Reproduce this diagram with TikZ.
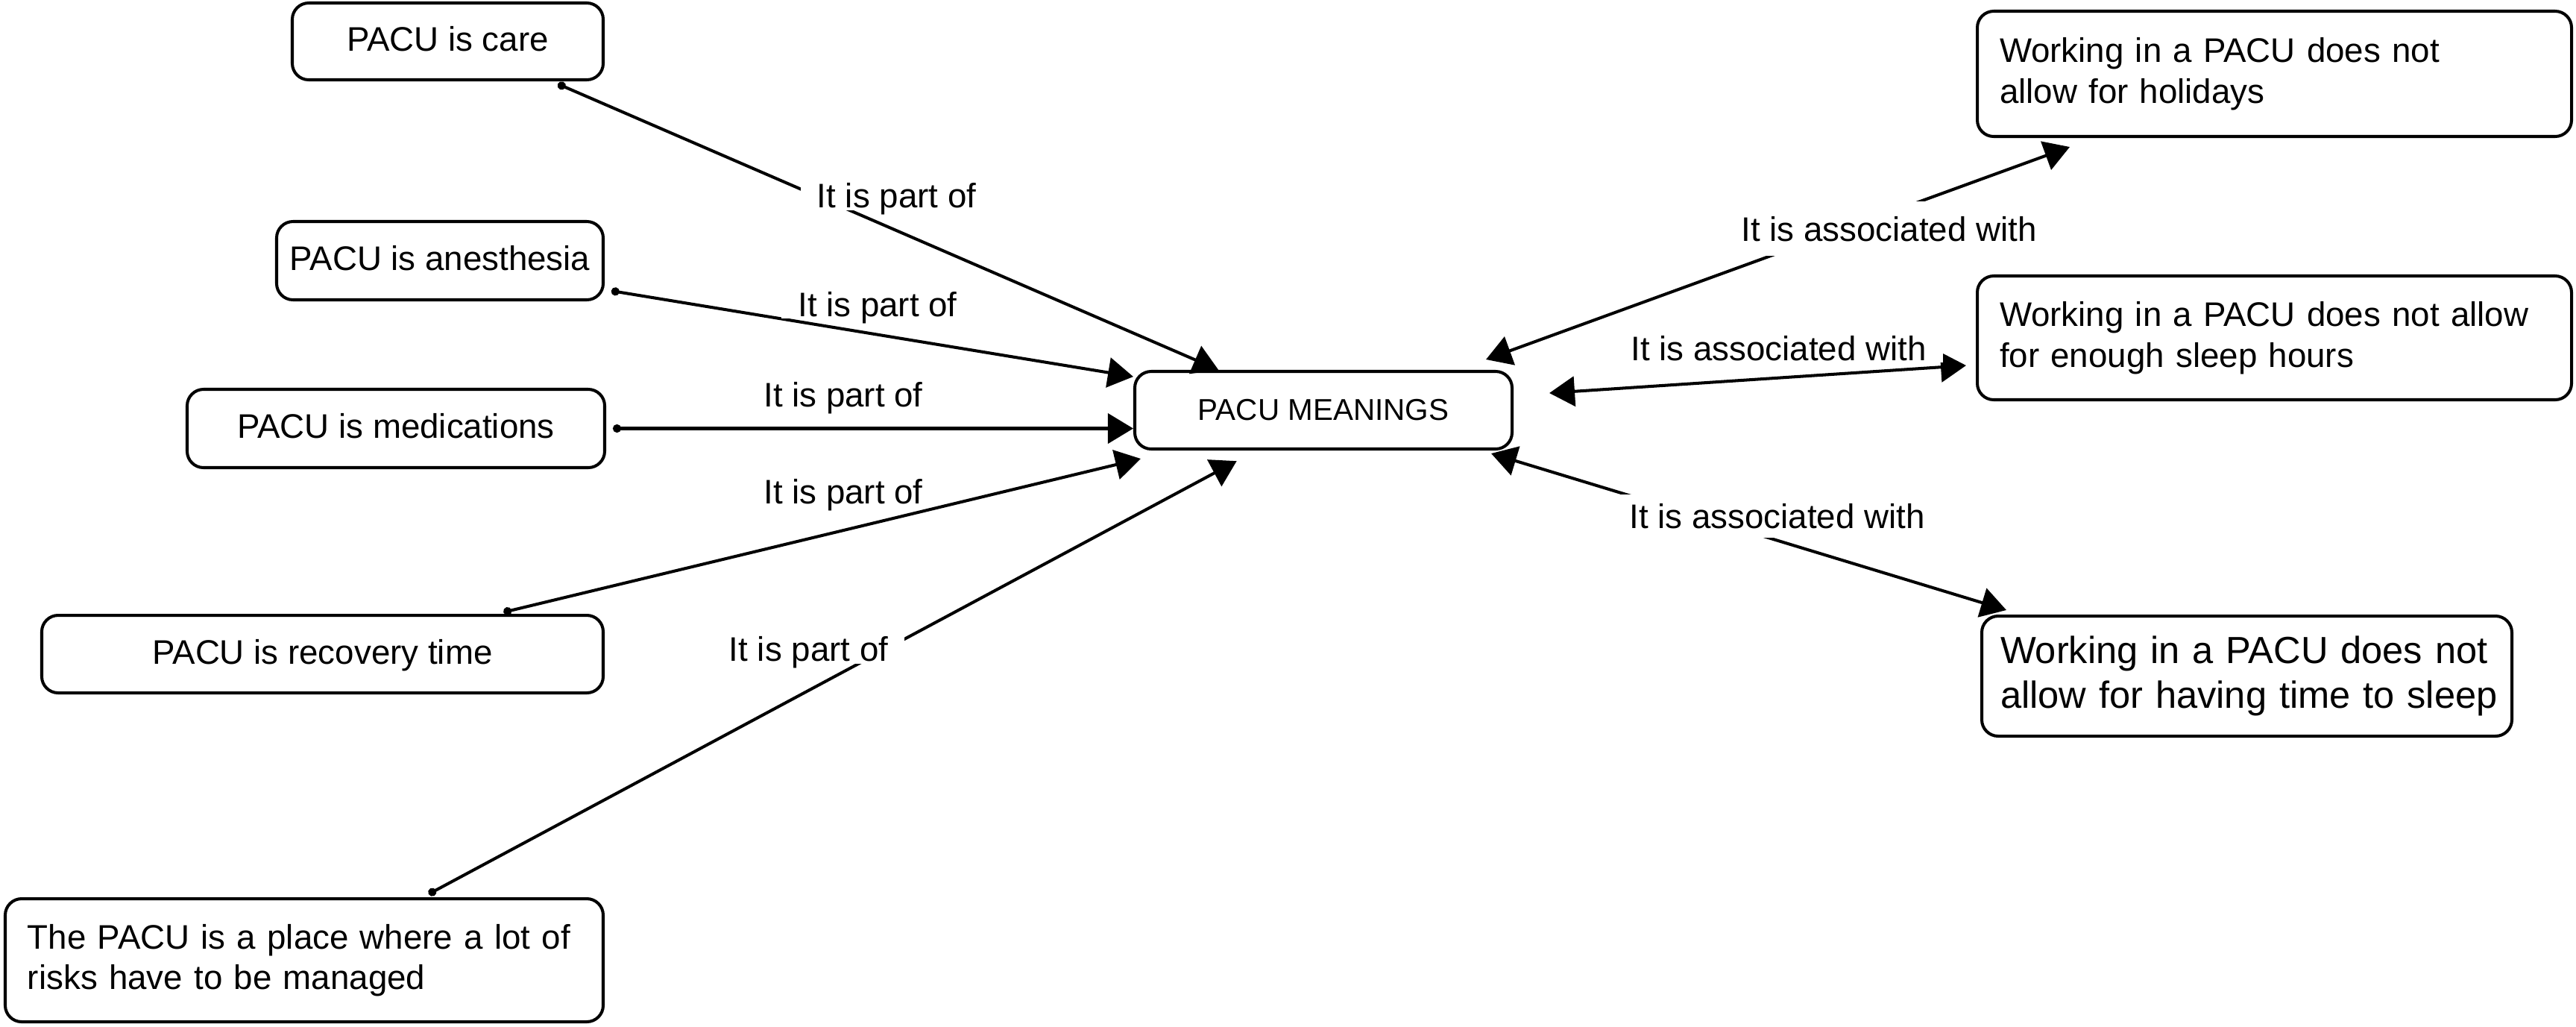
\documentclass[tikz,border=0pt]{standalone}
\usepackage{fontspec}
\setmainfont{Liberation Sans}
\usetikzlibrary{arrows.meta}

\begin{document}
\begin{tikzpicture}[
    concept/.style={draw, rounded corners=0.22cm, line width=1.15pt,
                    font=\fontsize{13}{15.5}\selectfont},
    single/.style={concept, text depth=0.07cm},
    multi/.style={concept, align=left, inner xsep=0.3cm},
    linkword/.style={fill=white, text depth=0pt, inner xsep=0.22cm, inner ysep=0.03cm,
                     font=\fontsize{13}{15.5}\selectfont},
    partof/.style={line width=1.15pt, shorten <=0.09cm,
                   {Circle[length=0.11cm]}-{Triangle[length=0.34cm, width=0.40cm]}},
    assoc/.style={line width=1.15pt,
                  {Triangle[length=0.34cm, width=0.40cm]}-{Triangle[length=0.34cm, width=0.40cm]}}
]
    \useasboundingbox (0, 0) rectangle (34.55, -13.76);

    % Left column
    \node at (6.005, -0.555) [single, minimum width=4.17cm, minimum height=1.03cm] (care) {PACU is care};
    \node at (5.90, -3.495) [single, minimum width=4.38cm, minimum height=1.05cm] (anes) {PACU is anesthesia};
    \node at (5.31, -5.745) [single, minimum width=5.60cm, minimum height=1.05cm] (meds) {PACU is medications};
    \node at (4.325, -8.77) [single, minimum width=7.53cm, minimum height=1.04cm] (recov) {PACU is recovery time};
    \node at (4.08, -12.875) [multi, text width=7.42cm, minimum height=1.65cm] (risks)
        {The PACU is a place where a lot of\\risks have to be managed};

    % Centre
    \node at (17.75, -5.50) [concept, minimum width=5.06cm, minimum height=1.04cm,
                             font=\fontsize{11.5}{14}\selectfont] (meanings) {PACU MEANINGS};

    % Right column
    \node at (30.505, -0.99) [multi, text width=7.37cm, minimum height=1.68cm] (holidays)
        {Working in a PACU does not\\allow for holidays};
    \node at (30.505, -4.53) [multi, text width=7.37cm, minimum height=1.66cm] (hours)
        {Working in a PACU does not allow\\for enough sleep hours};
    \node at (30.135, -9.065) [multi, inner xsep=0.25cm, text width=6.61cm, minimum height=1.61cm,
                               font=\fontsize{14.4}{17}\selectfont] (sleep)
        {\mbox{Working in a PACU does not}\\\mbox{allow for having time to sleep}};

    % Links into the centre
    \draw[partof] (care.-21) -- (meanings.159);
    \draw[partof] (anes.-10) -- (meanings.170);
    \draw[partof] (meds.east) -- (meds.east -| meanings.west);
    \draw[partof] (recov.13) -- ([shift={(0.1,-0.11)}]meanings.south west);
    \draw[partof, shorten >=0.3cm] (risks.28) -- (meanings.211);

    % Links out of the centre
    \draw[assoc] ([shift={(-0.37,0.14)}]meanings.north east) -- ([shift={(1.26,-0.12)}]holidays.south west);
    \draw[assoc] ([shift={(0.48,0.23)}]meanings.east) -- ([shift={(-0.13,-0.37)}]hours.west);
    \draw[assoc] ([shift={(-0.30,-0.04)}]meanings.south east) -- ([shift={(0.35,0.06)}]sleep.north west);

    % Linking words
    \node at (12.025, -2.62) [linkword] (w1) {It is part of};
    \node at (11.77, -4.075) [linkword] (w2) {It is part of};
    \node at (11.31, -5.29) [linkword] (w3) {It is part of};
    \node at (11.31, -6.585) [linkword] (w4) {It is part of};
    \node at (10.845, -8.70) [linkword] (w5) {It is part of};
    \node at (25.335, -3.065) [linkword, inner ysep=0.2cm] (w6) {It is associated with};
    \node at (23.855, -4.665) [linkword] (w7) {It is associated with};
    \node at (23.835, -6.92) [linkword, inner ysep=0.12cm] (w8) {It is associated with};
\end{tikzpicture}
\end{document}
